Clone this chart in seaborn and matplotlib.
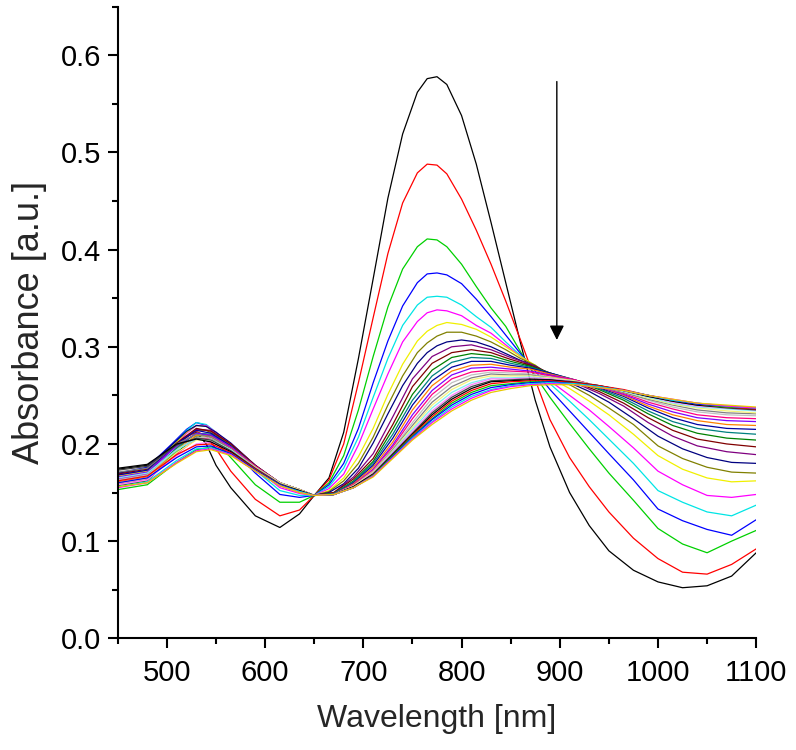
import numpy as np
import pandas as pd
import matplotlib
matplotlib.use("Agg")
import matplotlib.pyplot as plt
from matplotlib.ticker import MultipleLocator
import seaborn as sns

# ---------------- data ----------------
# early scans (strong 770 nm band) are read on a finer wavelength grid
wl_fine = [450, 480, 505, 520, 530, 540, 550, 565, 590, 615, 635, 650, 665, 680, 695, 710,
           725, 740, 755, 765, 775, 785, 800, 815, 830, 845, 860, 875, 890, 910, 930, 950,
           975, 1000, 1025, 1050, 1075, 1100]
# later scans (flat, broad band) on a coarser grid
wl_coarse = [450, 480, 510, 530, 545, 565, 590, 615, 635, 650, 670, 690, 710, 730, 750,
             770, 790, 810, 830, 850, 870, 890, 915, 940, 965, 990, 1015, 1040, 1070, 1100]

s00 = [.174, .178, .196, .208, .212, .200, .178, .155, .126, .114, .128, .147, .165, .212, .288, .370,
       .453, .519, .562, .576, .578, .570, .538, .488, .428, .366, .304, .245, .197, .150, .116, .090,
       .070, .058, .052, .054, .064, .088]
s01 = [.168, .172, .194, .207, .213, .208, .195, .172, .143, .126, .132, .147, .163, .200, .263, .330,
       .396, .448, .479, .488, .487, .478, .452, .420, .385, .347, .307, .266, .225, .186, .156, .130,
       .103, .082, .068, .066, .076, .092]
s02 = [.158, .163, .188, .204, .211, .210, .202, .186, .158, .140, .140, .147, .160, .188, .235, .290,
       .341, .380, .403, .411, .410, .403, .385, .362, .340, .321, .295, .270, .248, .221, .195, .170,
       .142, .113, .097, .088, .100, .111]
s03 = [.170, .176, .200, .215, .222, .219, .210, .196, .170, .148, .145, .147, .158, .180, .216, .263,
       .306, .342, .366, .375, .376, .374, .365, .349, .331, .312, .293, .275, .256, .234, .212, .190,
       .163, .133, .121, .112, .106, .122]
s04 = [.166, .171, .198, .214, .222, .220, .212, .198, .173, .152, .147, .147, .156, .175, .207, .248,
       .288, .322, .343, .351, .352, .351, .343, .331, .320, .305, .291, .278, .262, .244, .225, .205,
       .180, .152, .140, .130, .126, .137]
s05 = [.164, .169, .195, .211, .219, .219, .212, .199, .175, .155, .149, .147, .154, .169, .199, .236,
       .272, .305, .326, .335, .338, .337, .332, .322, .314, .302, .290, .280, .265, .250, .235, .218,
       .196, .172, .158, .147, .145, .148]
s06 = [.167, .172, .197, .212, .219, .218, .211, .199, .176, .157, .150, .147, .152, .165, .187, .216,
       .251, .282, .306, .316, .322, .325, .323, .318, .310, .300, .290, .281, .268, .257, .244, .230,
       .210, .188, .174, .165, .161, .162]
s07 = [.160, .165, .190, .207, .214, .214, .209, .198, .176, .158, .151, .147, .151, .162, .180, .207,
       .240, .270, .294, .304, .311, .315, .315, .311, .305, .297, .288, .281, .271, .261, .250, .237,
       .220, .198, .185, .176, .171, .170]
s08 = [.170, .175, .199, .213, .219, .218, .212, .201, .178, .159, .152, .147, .150, .159, .175, .201,
       .231, .260, .283, .294, .301, .305, .307, .305, .300, .293, .286, .280, .272, .263, .254, .243,
       .226, .208, .195, .186, .181, .180]

s09 = [.165, .170, .199, .215, .214, .200, .178, .160, .152, .147, .150, .166, .190, .228, .267,
       .290, .300, .302, .297, .289, .282, .272, .263, .252, .239, .222, .208, .198, .192, .189]
s10 = [.169, .174, .201, .216, .213, .200, .178, .160, .153, .147, .150, .164, .185, .220, .259,
       .283, .294, .297, .294, .287, .281, .273, .264, .254, .242, .227, .214, .205, .200, .197]
s11 = [.157, .162, .191, .208, .209, .198, .177, .160, .153, .147, .149, .162, .182, .215, .251,
       .276, .289, .293, .291, .285, .280, .273, .265, .256, .245, .231, .219, .211, .206, .204]
s12 = [.163, .168, .196, .211, .210, .198, .177, .160, .153, .147, .149, .161, .180, .210, .245,
       .270, .284, .289, .288, .283, .279, .273, .266, .257, .247, .234, .223, .216, .212, .210]
s13 = [.168, .173, .200, .214, .211, .198, .177, .160, .153, .147, .148, .160, .178, .206, .240,
       .265, .279, .285, .285, .281, .278, .273, .266, .258, .249, .237, .227, .220, .216, .215]
s14 = [.161, .166, .194, .209, .208, .197, .177, .160, .153, .147, .148, .159, .176, .202, .235,
       .260, .275, .281, .282, .279, .277, .272, .266, .259, .250, .239, .230, .224, .220, .219]
s15 = [.166, .171, .198, .211, .209, .197, .177, .160, .153, .147, .148, .158, .174, .199, .230,
       .255, .271, .278, .279, .277, .275, .271, .266, .259, .251, .241, .233, .227, .224, .223]
s16 = [.158, .163, .190, .205, .206, .196, .177, .160, .153, .147, .148, .158, .173, .197, .226,
       .251, .267, .274, .276, .275, .274, .270, .266, .259, .252, .243, .236, .230, .227, .226]
s17 = [.163, .168, .194, .207, .206, .195, .176, .160, .153, .147, .148, .157, .172, .195, .222,
       .247, .263, .271, .274, .273, .272, .269, .265, .259, .253, .245, .238, .233, .230, .229]
s18 = [.171, .175, .200, .210, .207, .195, .176, .160, .153, .147, .148, .157, .171, .194, .219,
       .243, .259, .268, .272, .271, .271, .268, .265, .259, .253, .246, .240, .235, .232, .231]
s19 = [.160, .165, .191, .204, .204, .194, .176, .160, .153, .147, .148, .157, .171, .193, .217,
       .240, .256, .266, .270, .270, .270, .268, .265, .260, .254, .247, .241, .237, .234, .232]
s20 = [.165, .170, .194, .205, .204, .194, .175, .159, .152, .147, .148, .156, .170, .192, .215,
       .237, .253, .263, .268, .268, .269, .267, .264, .260, .254, .248, .242, .238, .236, .234]
s21 = [.158, .163, .188, .200, .202, .193, .175, .159, .152, .147, .148, .156, .170, .191, .213,
       .234, .250, .261, .267, .267, .268, .267, .264, .260, .255, .249, .243, .239, .237, .235]
s22 = [.173, .177, .199, .206, .204, .193, .175, .159, .152, .147, .148, .156, .169, .190, .211,
       .232, .248, .259, .265, .266, .267, .266, .264, .260, .255, .249, .244, .240, .237, .235]
s23 = [.175, .179, .200, .205, .202, .192, .174, .158, .152, .147, .148, .156, .169, .189, .210,
       .230, .246, .257, .264, .265, .266, .266, .263, .260, .255, .249, .244, .240, .238, .236]
s24 = [.162, .167, .189, .199, .200, .191, .174, .158, .151, .147, .148, .155, .168, .188, .209,
       .228, .244, .255, .262, .264, .265, .265, .263, .260, .256, .250, .245, .241, .238, .236]
s25 = [.153, .158, .181, .194, .197, .190, .173, .158, .151, .147, .148, .155, .168, .188, .208,
       .226, .242, .253, .260, .262, .264, .264, .262, .259, .255, .250, .245, .241, .238, .237]
s26 = [.160, .165, .186, .197, .198, .190, .173, .158, .151, .147, .148, .155, .167, .187, .207,
       .225, .240, .251, .258, .261, .263, .264, .262, .259, .255, .250, .245, .241, .239, .237]
s27 = [.156, .161, .183, .195, .196, .189, .172, .157, .151, .147, .148, .155, .167, .186, .206,
       .223, .238, .249, .256, .260, .262, .263, .262, .259, .255, .250, .245, .242, .239, .237]
s28 = [.155, .160, .181, .193, .195, .189, .172, .157, .150, .147, .148, .155, .167, .186, .205,
       .222, .236, .247, .255, .259, .261, .262, .261, .258, .255, .250, .246, .242, .239, .237]
s29 = [.156, .160, .180, .192, .194, .188, .172, .157, .150, .147, .148, .155, .166, .185, .204,
       .220, .234, .245, .253, .257, .260, .261, .261, .258, .255, .250, .246, .242, .240, .238]

early_scans = [s00, s01, s02, s03, s04, s05, s06, s07, s08]
late_scans = [s09, s10, s11, s12, s13, s14, s15, s16, s17, s18, s19, s20, s21, s22, s23,
              s24, s25, s26, s27, s28, s29]

# Origin default colour increment list
line_colors = ["#000000", "#FF0000", "#00D000", "#0000FF", "#00E5E5", "#FF00FF", "#F0F000",
               "#808000", "#000080", "#800080", "#800000", "#008000", "#008080", "#0000A0",
               "#FF8000", "#8000FF", "#FF0080", "#C0C0C0", "#808080", "#F5F57A", "#80F0F0",
               "#FF80FF", "#404040", "#000000", "#FF0000", "#00D000", "#0000FF", "#00E5E5",
               "#FF00FF", "#E8C800"]

x_ticks = [500, 600, 700, 800, 900, 1000, 1100]
y_ticks = [0.0, 0.1, 0.2, 0.3, 0.4, 0.5, 0.6]
arrow_x = 897
arrow_top = 0.573
arrow_tip = 0.307

# ---------------- plotting ----------------
sns.set_theme(style="ticks")
plt.rcParams["font.family"] = ["Liberation Sans", "DejaVu Sans"]

rows = []
scan_id = 0
for s in early_scans:
    for w, a in zip(wl_fine, s):
        rows.append({"wl": w, "A": a, "scan": f"s{scan_id:02d}"})
    scan_id += 1
for s in late_scans:
    for w, a in zip(wl_coarse, s):
        rows.append({"wl": w, "A": a, "scan": f"s{scan_id:02d}"})
    scan_id += 1
df = pd.DataFrame(rows)

fig = plt.figure(figsize=(7.96, 7.5), dpi=100)
ax = fig.add_axes([0.148, 0.149, 0.802, 0.842])

sns.lineplot(data=df, x="wl", y="A", hue="scan", palette=line_colors,
             estimator=None, sort=False, legend=False, linewidth=0.9, ax=ax)

ax.annotate("", xy=(arrow_x, arrow_tip), xytext=(arrow_x, arrow_top),
            arrowprops=dict(arrowstyle="-|>", color="black", lw=1.0,
                            mutation_scale=22, shrinkA=0, shrinkB=0))

ax.set_xlim(450, 1100)
ax.set_ylim(0, 0.65)
ax.set_xticks(x_ticks)
ax.set_yticks(y_ticks)
ax.set_yticklabels([f"{v:.1f}" for v in y_ticks])
ax.xaxis.set_minor_locator(MultipleLocator(50))
ax.yaxis.set_minor_locator(MultipleLocator(0.05))

for side in ["top", "right"]:
    ax.spines[side].set_visible(False)
for side in ["left", "bottom"]:
    ax.spines[side].set_linewidth(1.5)
    ax.spines[side].set_color("black")

ax.tick_params(which="major", direction="out", length=7, width=1.5, labelsize=21,
               colors="black", pad=5)
ax.tick_params(which="minor", direction="out", length=4, width=1.5, colors="black")
ax.tick_params(axis="x", which="major", pad=8)

ax.set_xlabel("Wavelength [nm]", fontsize=23, labelpad=12)
ax.set_ylabel("Absorbance [a.u.]", fontsize=26, labelpad=10)

fig.savefig("out.png", dpi=100)
